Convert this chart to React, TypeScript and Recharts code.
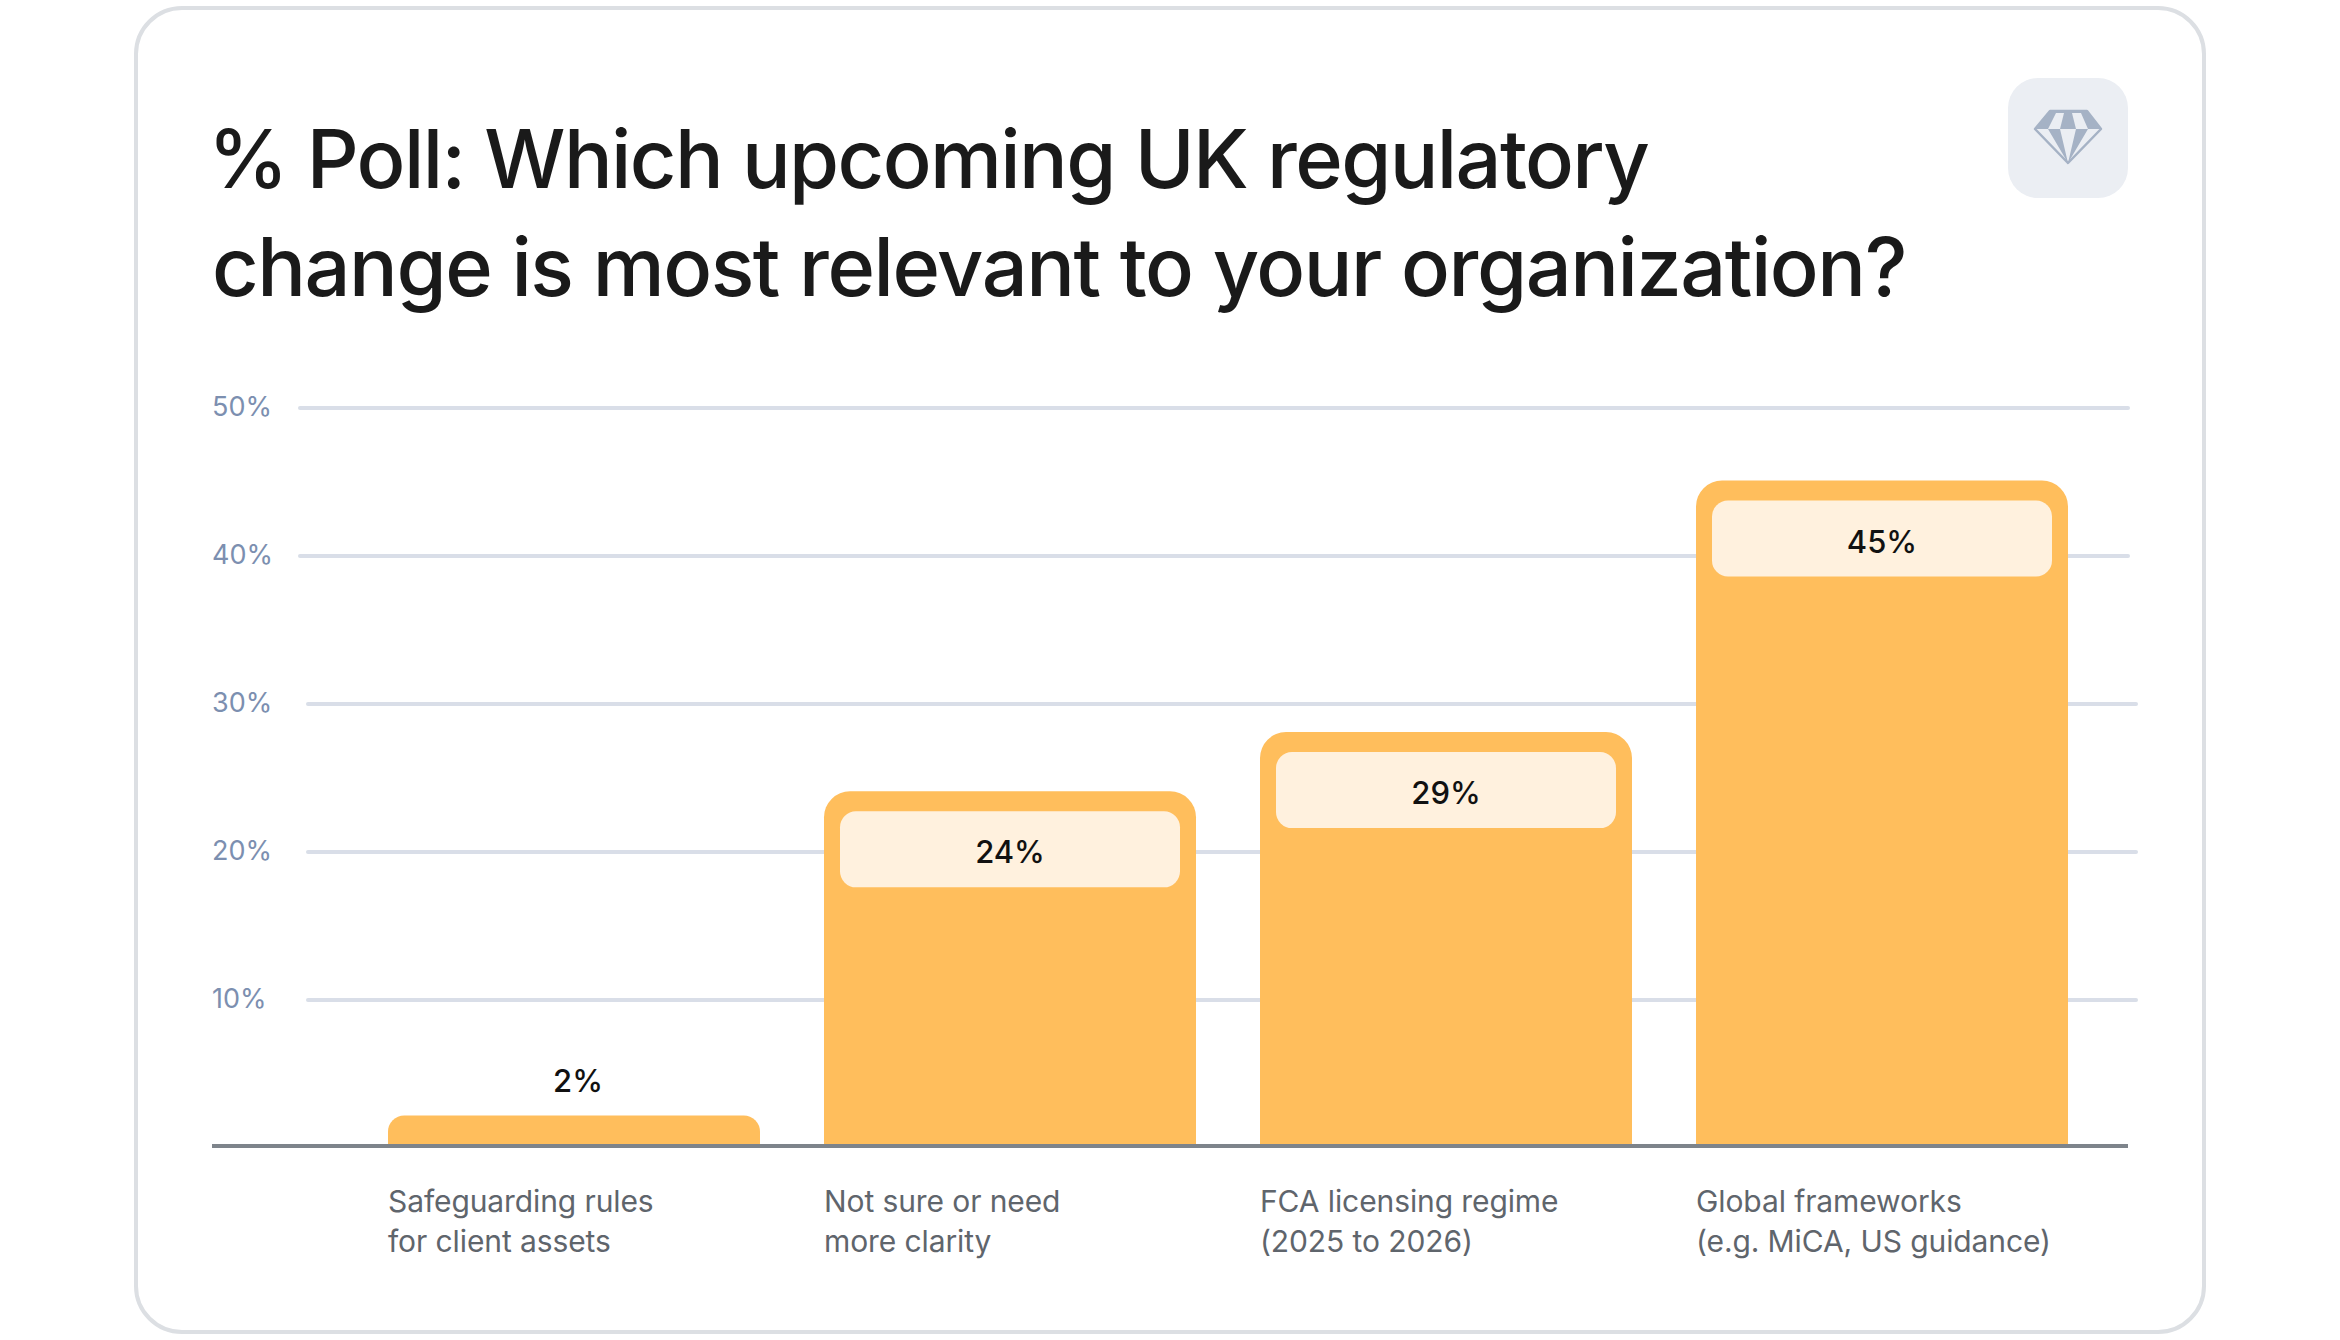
import { Bar, BarChart, CartesianGrid, LabelList, ReferenceLine, XAxis, YAxis } from 'recharts';

const categories = [
  ['Safeguarding rules', 'for client assets'],
  ['Not sure or need', 'more clarity'],
  ['FCA licensing regime', '(2025 to 2026)'],
  ['Global frameworks', '(e.g. MiCA, US guidance)'],
];
// bar heights as drawn; the printed label differs on the third bar
const barValues = [2.2, 24.1, 28.1, 45.1];
const printedLabels = ['2%', '24%', '29%', '45%'];
const yTicks = [10, 20, 30, 40, 50];
const upperGrid = [40, 50];
const lowerGrid = [10, 20, 30];
const titleLines = ['% Poll: Which upcoming UK regulatory', 'change is most relevant to your organization?'];

const chartData = categories.map((lines, i) => ({
  name: lines.join(' '),
  value: barValues[i],
  label: printedLabels[i],
}));

const FONT = 'Inter, "Noto Sans", sans-serif';

function XTick({ x, y, payload, index }: any) {
  const lines = categories[payload?.index ?? index] || [];
  return (
    <text x={x - 186} y={y + 56} fill="#5F656C" fontSize={30} fontFamily={FONT} letterSpacing={-0.1}>
      {lines.map((line, i) => (
        <tspan key={line} x={x - 186} dy={i === 0 ? 0 : 40}>
          {line}
        </tspan>
      ))}
    </text>
  );
}

function YTick({ y, payload }: any) {
  return (
    <text x={212} y={y + 8} fill="#7C8FB0" fontSize={27} fontFamily={FONT}>
      {payload.value}%
    </text>
  );
}

function gridLine({ key, x1, x2, y1, y2 }: any) {
  return <line key={key} x1={x1} x2={x2} y1={y1} y2={y2} stroke="#D9DEE8" strokeWidth={4} strokeLinecap="round" />;
}

function AxisLine({ x1, x2, y1 }: any) {
  return <line x1={x1} x2={x2} y1={y1 - 2} y2={y1 - 2} stroke="#7E848B" strokeWidth={4} />;
}

function ValueLabel({ x, y, width, index }: any) {
  const text = printedLabels[index];
  const cx = x + width / 2;
  if (barValues[index] < 5) {
    return (
      <text x={cx + 4} y={y - 23} textAnchor="middle" fill="#111" fontSize={31} fontWeight={500} fontFamily={FONT}>
        {text}
      </text>
    );
  }
  return (
    <g>
      <rect x={x + 16} y={y + 20} width={width - 32} height={76} rx={16} fill="#FFF1DE" />
      <text x={cx} y={y + 72} textAnchor="middle" fill="#111" fontSize={31} fontWeight={500} fontFamily={FONT}>
        {text}
      </text>
    </g>
  );
}

export default function App() {
  return (
    <div style={{ position: 'absolute', left: 0, top: 0, width: 2340, height: 1340, background: '#fff', overflow: 'hidden' }}>
      <div
        style={{
          position: 'absolute',
          left: 134,
          top: 6,
          width: 2072,
          height: 1328,
          boxSizing: 'border-box',
          border: '4px solid #DCDFE3',
          borderRadius: 48,
        }}
      />
      <div
        style={{
          position: 'absolute',
          left: 208,
          top: 105,
          fontFamily: FONT,
          fontSize: 81,
          fontWeight: 500,
          lineHeight: '108px',
          letterSpacing: -1.63,
          color: '#1A1A1A',
          whiteSpace: 'nowrap',
        }}
      >
        {titleLines[0]}
      </div>
      <div
        style={{
          position: 'absolute',
          left: 212,
          top: 213,
          fontFamily: FONT,
          fontSize: 81,
          fontWeight: 500,
          lineHeight: '108px',
          letterSpacing: -1.45,
          color: '#1A1A1A',
          whiteSpace: 'nowrap',
        }}
      >
        {titleLines[1]}
      </div>
      <div style={{ position: 'absolute', left: 2008, top: 78, width: 120, height: 120, borderRadius: 30, background: '#EBEEF3' }}>
        <svg width={120} height={120} viewBox="0 0 120 120">
          <path d="M42 33H79L93 51L60 85L27 51Z" fill="#EBEEF3" stroke="#A5B2C5" strokeWidth={2.5} strokeLinejoin="round" />
          <path d="M42 33H79L93 51H27Z" fill="#A5B2C5" />
          <path d="M48 35H56L52 51H40ZM64 35H73L80 51H68Z" fill="#EBEEF3" />
          <path d="M40 51H52L60 85ZM68 51H80L60 85Z" fill="#A5B2C5" />
        </svg>
      </div>
      <div style={{ position: 'absolute', left: 0, top: 0 }}>
        <BarChart
          width={2340}
          height={1340}
          data={chartData}
          margin={{ top: 408, right: 212, bottom: 0, left: 211 }}
          barSize={372}
        >
          <CartesianGrid x={300} y={408} width={1828} height={740} vertical={false} horizontalValues={upperGrid} horizontal={gridLine} />
          <CartesianGrid x={308} y={408} width={1828} height={740} vertical={false} horizontalValues={lowerGrid} horizontal={gridLine} />
          <XAxis
            dataKey="name"
            height={192}
            interval={0}
            padding={{ left: 144, right: 28 }}
            axisLine={false}
            tickLine={false}
            tick={<XTick />}
          />
          <YAxis width={1} domain={[0, 50]} ticks={yTicks} axisLine={false} tickLine={false} tick={<YTick />} />
          <Bar dataKey="value" fill="#FFBE5C" radius={[26, 26, 0, 0]} isAnimationActive={false}>
            <LabelList dataKey="label" content={<ValueLabel />} />
          </Bar>
          <ReferenceLine y={0} shape={<AxisLine />} />
        </BarChart>
      </div>
    </div>
  );
}
